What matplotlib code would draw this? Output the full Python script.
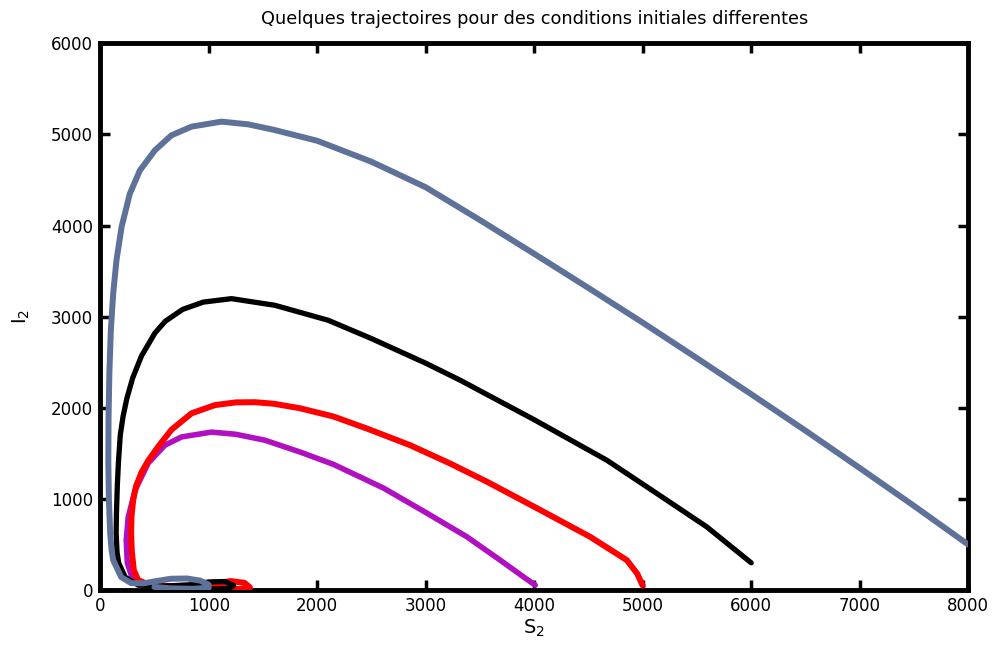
import matplotlib
matplotlib.use("Agg")
import matplotlib.pyplot as plt

plt.rcParams['font.family'] = ['DejaVu Sans']

# trajectoires (S2, I2), du point initial vers l'equilibre
s_bleu = [8000, 7500, 7000, 6500, 6000, 5500, 5000, 4500, 4000, 3500, 3000, 2500, 2000, 1600,
          1364, 1118, 842, 657, 504, 366, 273, 197, 150, 120, 98, 85, 77, 75, 80, 92, 105,
          120, 194, 285, 400, 520, 650, 800, 920, 1000, 1000, 850, 650, 500]
i_bleu = [500, 925, 1340, 1750, 2150, 2545, 2935, 3315, 3690, 4060, 4420, 4700, 4930, 5050,
          5110, 5140, 5085, 4990, 4825, 4605, 4349, 3984, 3618, 3257, 2851, 2400, 1900, 1400,
          1000, 625, 440, 329, 143, 77, 75, 100, 125, 128, 105, 60, 25, 15, 20, 35]

s_noir = [6000, 5591, 5131, 4670, 4000, 3318, 3000, 2500, 2101, 1610, 1210, 950, 760, 600,
          504, 381, 300, 245, 210, 185, 168, 158, 150, 147, 155, 170, 230, 350, 600, 850,
          1000, 1150, 1230, 1180, 1000, 900]
i_noir = [300, 694, 1060, 1425, 1870, 2303, 2490, 2760, 2961, 3125, 3198, 3160, 3080, 2950,
          2820, 2570, 2330, 2100, 1900, 1700, 1400, 1150, 850, 625, 420, 300, 143, 55, 45,
          60, 90, 95, 50, 15, 12, 20]

s_rouge = [5000, 4950, 4854, 4516, 4055, 3564, 3226, 2857, 2458, 2150, 1843, 1600, 1426, 1250,
           1057, 842, 657, 535, 442, 380, 330, 304, 288, 285, 292, 310, 350, 450, 700, 1000,
           1200, 1330, 1380, 1300, 1100]
i_rouge = [50, 180, 329, 585, 880, 1190, 1389, 1590, 1773, 1905, 1995, 2045, 2062, 2060,
           2030, 1940, 1760, 1575, 1420, 1290, 1140, 987, 800, 625, 420, 220, 110, 60, 40, 55,
           100, 80, 30, 12, 15]

s_magenta = [4009, 3901, 3687, 3380, 3011, 2611, 2150, 1843, 1518, 1250, 1026, 750, 596, 442,
             322, 258, 240, 250, 290, 380, 600, 900, 1100, 1200, 1100]
i_magenta = [55, 146, 329, 585, 845, 1120, 1380, 1515, 1645, 1710, 1734, 1681, 1590, 1393,
             1096, 800, 548, 300, 150, 70, 45, 55, 70, 40, 15]

x_ticks = [0, 1000, 2000, 3000, 4000, 5000, 6000, 7000, 8000]
y_ticks = [0, 1000, 2000, 3000, 4000, 5000, 6000]

fig = plt.figure(figsize=(9.92, 6.55), dpi=100)
ax = fig.add_axes([0.101, 0.099, 0.875, 0.835])

style = dict(solid_capstyle='round', solid_joinstyle='round')
ax.plot(s_magenta, i_magenta, color='#B010C0', lw=4, zorder=2, **style)
ax.plot(s_rouge, i_rouge, color='#FF0000', lw=4.3, zorder=3, **style)
ax.plot(s_noir, i_noir, color='black', lw=3.8, zorder=4, **style)
ax.plot(s_bleu, i_bleu, color='#5E7198', lw=4.3, zorder=5, **style)

ax.set_xlim(0, 8000)
ax.set_ylim(0, 6000)
ax.set_xticks(x_ticks)
ax.set_yticks(y_ticks)
ax.tick_params(direction='in', length=7, width=2.5, labelsize=12, pad=5,
               top=True, right=True)
for sp in ax.spines.values():
    sp.set_linewidth(3.5)

ax.set_title('Quelques trajectoires pour des conditions initiales differentes',
             fontsize=12.8, pad=14)
ax.set_xlabel('S$_2$', fontsize=14, labelpad=2)
ax.set_ylabel('I$_2$', fontsize=14, labelpad=14)

fig.savefig('out.png', dpi=100)
